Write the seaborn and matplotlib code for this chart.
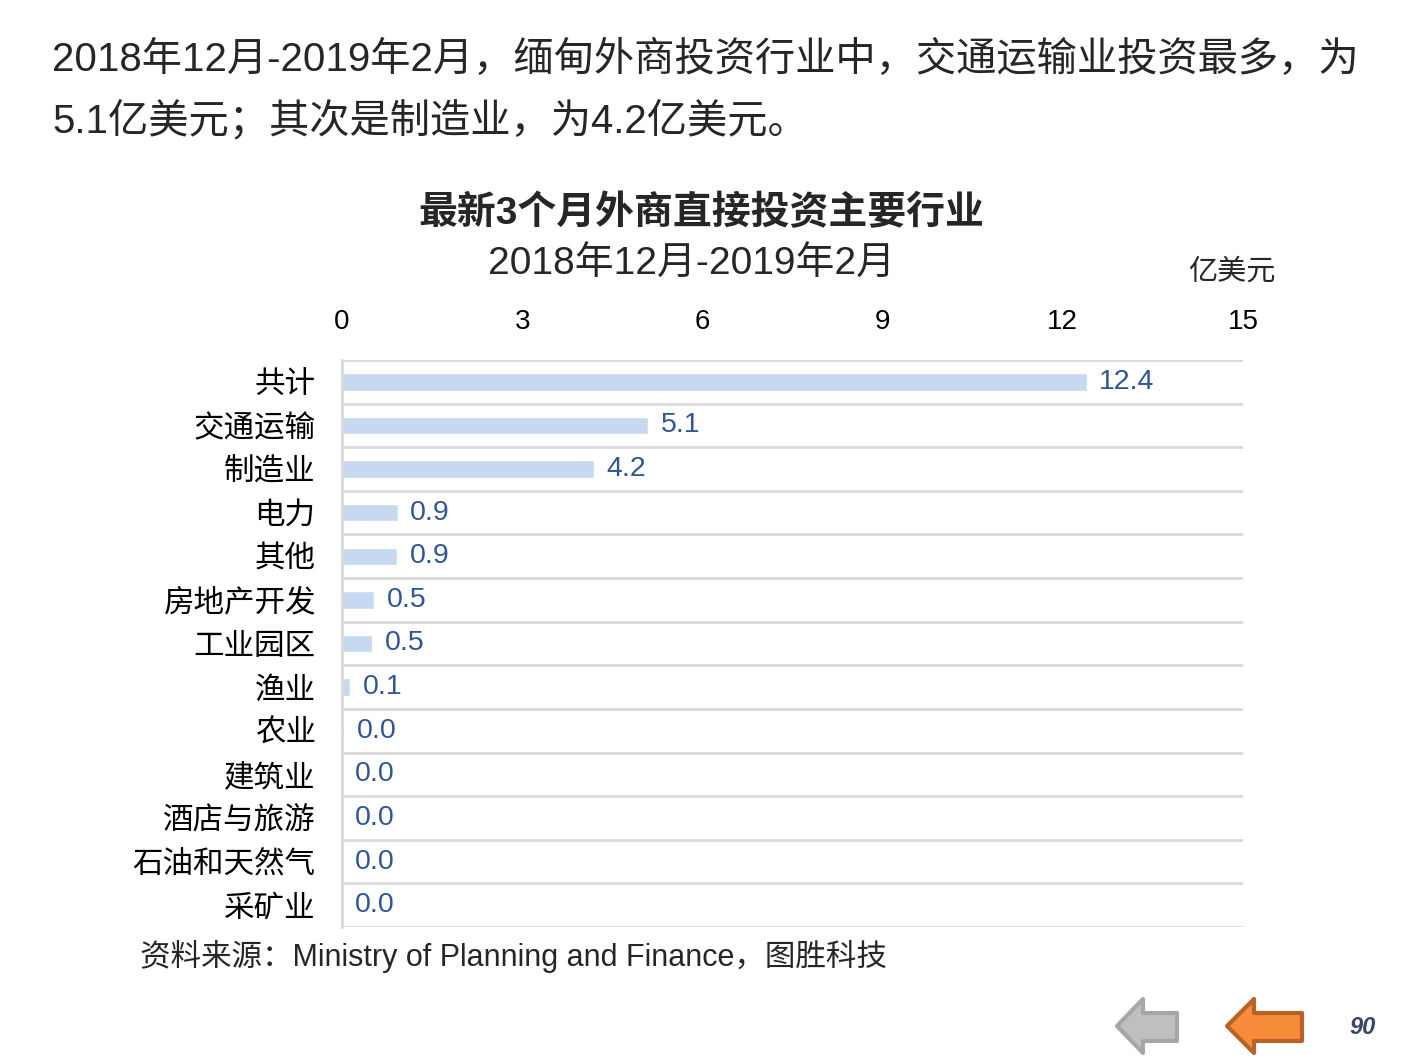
import numpy as np
import matplotlib
matplotlib.use("Agg")
import matplotlib.pyplot as plt
from matplotlib.patches import Polygon
import seaborn as sns

# ==============================================================================
# 数据
# ==============================================================================
industries = ['共计', '交通运输', '制造业', '电力', '其他', '房地产开发', '工业园区',
              '渔业', '农业', '建筑业', '酒店与旅游', '石油和天然气', '采矿业']
invest = [12.4, 5.1, 4.2, 0.93, 0.92, 0.54, 0.50, 0.14, 0.04, 0.01, 0.0, 0.0, 0.0]
x_ticks = [0, 3, 6, 9, 12, 15]

title = '最新3个月外商直接投资主要行业'
subtitle = '2018年12月-2019年2月'
unit = '亿美元'
intro_1 = '2018年12月-2019年2月，缅甸外商投资行业中，交通运输业投资最多，为'
intro_2 = '5.1亿美元；其次是制造业，为4.2亿美元。'
source = '资料来源：Ministry of Planning and Finance，图胜科技'
page_no = '90'

BAR_COLOR = '#C6D9F1'
LABEL_COLOR = '#2F5597'
GRID_COLOR = '#D9D9D9'
W, H = 1411, 1058

sns.set_style("white")
plt.rcParams['font.family'] = ['Liberation Sans', 'Noto Sans CJK SC', 'DejaVu Sans']
plt.rcParams['axes.unicode_minus'] = False

fig = plt.figure(figsize=(W / 100, H / 100), dpi=100)
ax = fig.add_axes([342 / W, 1 - 927 / H, 901 / W, 567 / H])

sns.barplot(x=invest, y=industries, orient='h', color=BAR_COLOR, width=0.4,
            saturation=1, ax=ax)

# 数据标签
ax.bar_label(ax.containers[0], labels=[f'{v:.1f}' for v in invest], padding=9,
             fontsize=20.5, color=LABEL_COLOR)

ax.set_xlim(0, 15)
ax.set_ylim(len(industries) - 0.5, -0.5)
ax.set_xticks(x_ticks)
ax.set_xticklabels([str(t) for t in x_ticks])
ax.xaxis.tick_top()
ax.tick_params(axis='x', length=0, pad=18, labelsize=20, colors='black')
ax.tick_params(axis='y', length=0, pad=19, labelsize=22, colors='black')
ax.set_xlabel('')
ax.set_ylabel('')

# 分隔线
ax.set_yticks(np.arange(-0.5, len(industries), 1.0), minor=True)
ax.tick_params(axis='y', which='minor', length=0)
ax.grid(False)
ax.grid(True, which='minor', axis='y', color=GRID_COLOR, linewidth=2)
ax.set_axisbelow(True)

for s in ['top', 'right', 'bottom']:
    ax.spines[s].set_visible(False)
ax.spines['left'].set_color(GRID_COLOR)
ax.spines['left'].set_linewidth(2)

# 文字
fig.text(52 / W, 1 - 60 / H, intro_1, fontsize=29, va='center', ha='left')
fig.text(52 / W, 1 - 120 / H, intro_2, fontsize=29, va='center', ha='left')
fig.text(701 / W, 1 - 213 / H, title, fontsize=28, fontweight='bold', ha='center', va='center')
fig.text(691 / W, 1 - 265 / H, subtitle, fontsize=28, ha='center', va='center')
fig.text(1232 / W, 1 - 272 / H, unit, fontsize=21, ha='center', va='center')
fig.text(140 / W, 1 - 956 / H, source, fontsize=22, ha='left', va='center')
fig.text(1363 / W, 1 - 1028 / H, page_no, fontsize=17, fontweight='bold', fontstyle='italic',
         color='#3B4466', ha='center', va='center')


# 底部导航箭头
def arrow(tip, back, right, face, edge):
    pts = [(tip, 1026), (back, 999), (back, 1013), (right, 1013),
           (right, 1041), (back, 1041), (back, 1053)]
    pts = [(x / W, 1 - y / H) for x, y in pts]
    fig.patches.append(Polygon(pts, closed=True, facecolor=face, edgecolor=edge,
                               linewidth=3, joinstyle='round', transform=fig.transFigure))


arrow(1117, 1143, 1177, '#BFBFBF', '#A6A6A6')
arrow(1227, 1254, 1302, '#F68B3A', '#B8622A')

fig.savefig('out.png', dpi=100)
